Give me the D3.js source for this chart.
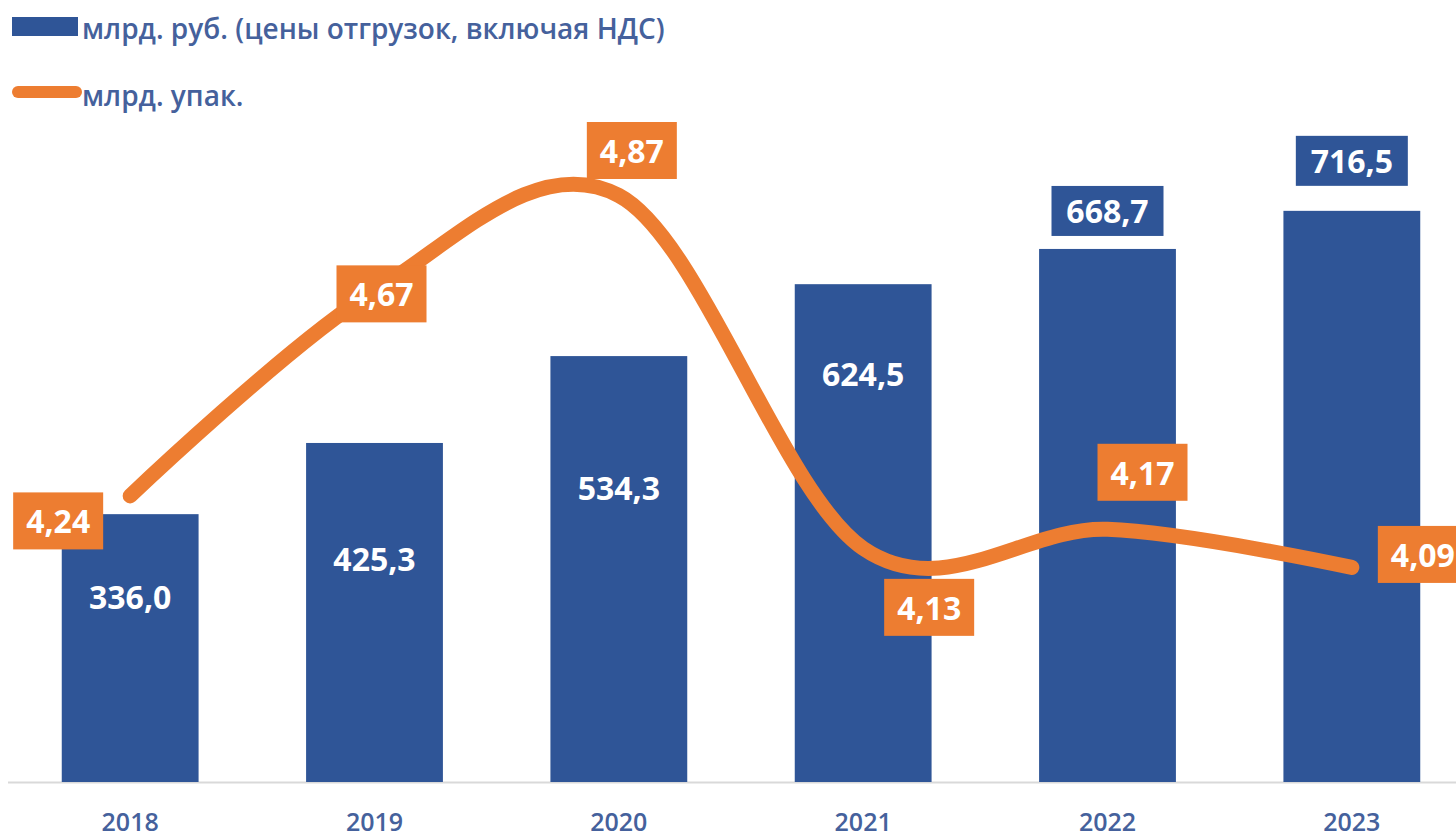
<!DOCTYPE html>
<html>
<head>
<meta charset="utf-8">
<script src="https://cdn.jsdelivr.net/npm/d3@7"></script>
<style>
  body { margin: 0; background: #fff; }
  svg { display: block; font-family: "Open Sans", "Noto Sans", sans-serif; }
</style>
</head>
<body>
<svg width="1456" height="839"></svg>
<script>
// data
const years = ["2018", "2019", "2020", "2021", "2022", "2023"];
const rubValues = [336.0, 425.3, 534.3, 624.5, 668.7, 716.5];
const packValues = [4.24, 4.67, 4.87, 4.13, 4.17, 4.09];
const seriesNames = ["млрд. руб. (цены отгрузок, включая НДС)", "млрд. упак."];

// label placement (manual, like the original chart)
const barLabelDy = [82, 116, 131, 89, -38, -50];
const barLabelBoxed = [false, false, false, false, true, true];
const packLabelDx = [-72, 7, 13, 66, 35, 71];
const packLabelDy = [25, 3, -45, 59, -57, -13];

const blue = "#2F5597", orange = "#ED7D31", textBlue = "#45619C";

const svg = d3.select("svg");
const baseY = 782;

const x = d3.scaleBand().domain(years).range([8, 1474]).paddingInner(0.44).paddingOuter(0.22);
const y = d3.scaleLinear().domain([0, 981]).range([baseY, 0]);
const y2 = d3.scaleLinear().domain([3.64, 5.28]).range([baseY, 0]);

const fmt1 = v => d3.format(".1f")(v).replace(".", ",");
const fmt2 = v => d3.format(".2f")(v).replace(".", ",");

// baseline
svg.append("line")
  .attr("x1", 8).attr("x2", 1456)
  .attr("y1", baseY + 0.5).attr("y2", baseY + 0.5)
  .attr("stroke", "#d9d9d9").attr("stroke-width", 2);

// x axis labels
const xAxis = svg.append("g")
  .attr("transform", `translate(0,${baseY})`)
  .call(d3.axisBottom(x).tickSize(0).tickPadding(31));
xAxis.select(".domain").remove();
xAxis.selectAll("text")
  .attr("fill", textBlue)
  .style("font-size", "25px")
  .style("font-weight", 600)
  .style("font-family", '"Open Sans", sans-serif');

// bars
svg.selectAll(".bar")
  .data(rubValues)
  .enter().append("rect")
  .attr("class", "bar")
  .attr("x", (d, i) => x(years[i]))
  .attr("width", x.bandwidth())
  .attr("y", d => y(d))
  .attr("height", d => baseY - y(d))
  .attr("fill", blue);

// bar labels inside
rubValues.forEach((v, i) => {
  if (barLabelBoxed[i]) return;
  svg.append("text")
    .attr("class", "barLabel")
    .attr("x", x(years[i]) + x.bandwidth() / 2)
    .attr("y", y(v) + barLabelDy[i])
    .attr("text-anchor", "middle")
    .attr("dominant-baseline", "central")
    .attr("fill", "#fff")
    .style("font-size", "32px")
    .style("font-weight", 700)
    .text(fmt1(v));
});

// line
const line = d3.line()
  .x((d, i) => x(years[i]) + x.bandwidth() / 2)
  .y(d => y2(d))
  .curve(d3.curveCardinal.tension(0));

svg.append("path")
  .datum(packValues)
  .attr("d", line)
  .attr("fill", "none")
  .attr("stroke", orange)
  .attr("stroke-width", 15)
  .attr("stroke-linecap", "round");

// boxed label helper
function boxLabel(cx, cy, txt, fill, w, h) {
  const g = svg.append("g").attr("transform", `translate(${cx},${cy})`);
  g.append("rect")
    .attr("x", -w / 2).attr("y", -h / 2)
    .attr("width", w).attr("height", h)
    .attr("fill", fill);
  g.append("text")
    .attr("text-anchor", "middle")
    .attr("dominant-baseline", "central")
    .attr("fill", "#fff")
    .style("font-size", "32px")
    .style("font-weight", 700)
    .text(txt);
}

// orange labels
packValues.forEach((v, i) => {
  const cx = x(years[i]) + x.bandwidth() / 2 + packLabelDx[i];
  const cy = y2(v) + packLabelDy[i];
  boxLabel(cx, cy, fmt2(v), orange, 90, 57);
});

// boxed bar labels above bars
rubValues.forEach((v, i) => {
  if (!barLabelBoxed[i]) return;
  boxLabel(x(years[i]) + x.bandwidth() / 2, y(v) + barLabelDy[i], fmt1(v), blue, 112, 50);
});

// legend
const legend = svg.append("g");
legend.append("rect")
  .attr("x", 12).attr("y", 17).attr("width", 66).attr("height", 19)
  .attr("fill", blue);
legend.append("text")
  .attr("x", 82).attr("y", 28)
  .attr("dominant-baseline", "central")
  .attr("fill", textBlue)
  .style("font-size", "28px")
  .style("font-weight", 600)
  .text(seriesNames[0]);
legend.append("line")
  .attr("x1", 18).attr("x2", 76).attr("y1", 92).attr("y2", 92)
  .attr("stroke", orange).attr("stroke-width", 12)
  .attr("stroke-linecap", "round");
legend.append("text")
  .attr("x", 82).attr("y", 95)
  .attr("dominant-baseline", "central")
  .attr("fill", textBlue)
  .style("font-size", "28px")
  .style("font-weight", 600)
  .text(seriesNames[1]);
</script>
</body>
</html>
